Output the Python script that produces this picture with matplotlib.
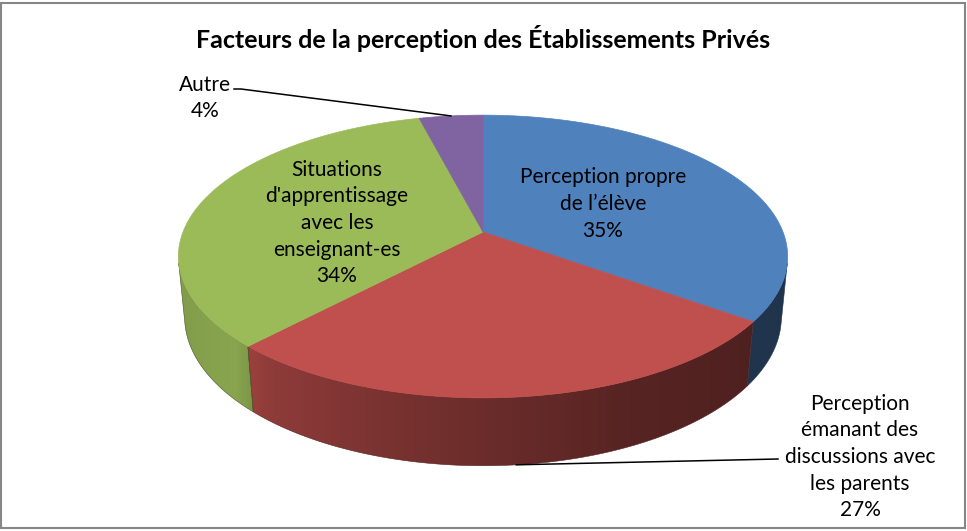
import matplotlib
matplotlib.use("Agg")
import matplotlib.pyplot as plt
import numpy as np
from matplotlib.patches import Polygon, Rectangle

title = "Facteurs de la perception des Établissements Privés"
labels = ["Perception propre\nde l’élève",
          "Perception\némanant des\ndiscussions avec\nles parents",
          "Situations\nd'apprentissage\navec les\nenseignant-es",
          "Autre"]
values = [35, 27, 34, 4]
colors = ["#4F81BD", "#C0504D", "#9BBB59", "#8064A2"]

# view of the 3d pie (pixel space)
ELEV = np.radians(27.2)
DIST = 5.13
SCALE = 1539.0
CX, CY = 483.0, 232.0
DEPTH = 0.228
W, H = 967, 531

# label boxes (centre x, centre y) and leader lines
label_pos = [(603, 204), (860, 457), (337, 223), (205, 98)]
leader = {1: (778, 459), 3: (234, 89)}


def project(x, y, z):
    s, c = np.sin(ELEV), np.cos(ELEV)
    d = DIST + y * c - z * s
    return CX + SCALE * x / d, CY - SCALE * (y * s + z * c) / d


def rim(phi, z):
    return project(np.cos(phi), np.sin(phi), z)


def shade(phi_deg):
    kx = [-180, -165, -138, -130, -95, -65, -37, 0]
    ky = [0.82, 0.84, 0.88, 0.75, 0.58, 0.45, 0.41, 0.40]
    return np.interp(phi_deg, kx, ky)


fig = plt.figure(figsize=(W / 100, H / 100), dpi=100)
ax = fig.add_axes([0, 0, 1, 1])
ax.set_xlim(0, W)
ax.set_ylim(H, 0)
ax.axis("off")

tot = float(sum(values))
cum = np.concatenate([[0], np.cumsum(values)]) / tot
starts = 90 - cum[:-1] * 360
ends = 90 - cum[1:] * 360

sil = np.degrees(np.arcsin(1.0 / (DIST * np.cos(ELEV))))
vis_lo, vis_hi = -180 + sil, -sil

# side walls, filled with a horizontal gradient clipped to the wall outline
for i in range(len(values)):
    lo = max(ends[i], vis_lo)
    hi = min(starts[i], vis_hi)
    if lo >= hi:
        continue
    ph = np.linspace(lo, hi, 300)
    tx, ty = rim(np.radians(ph), 0)
    bx, by = rim(np.radians(ph), -DEPTH)
    outline = list(zip(tx, ty)) + list(zip(bx[::-1], by[::-1]))
    poly = Polygon(outline, closed=True, facecolor="none", edgecolor="none")
    ax.add_patch(poly)
    base = np.array(matplotlib.colors.to_rgb(colors[i]))
    x0, x1 = min(tx.min(), bx.min()) - 2, max(tx.max(), bx.max()) + 2
    y0, y1 = min(ty.min(), by.min()) - 2, max(ty.max(), by.max()) + 2
    cols = np.arange(np.floor(x0), np.ceil(x1) + 1)
    order = np.argsort(bx)
    phx = np.interp(cols, bx[order], ph[order])
    rgb = np.clip(base[None, :] * shade(phx)[:, None], 0, 1)
    img = np.repeat(rgb[None, :, :], 4, axis=0)
    im = ax.imshow(img, extent=(cols[0], cols[-1], y1, y0), aspect="auto",
                   interpolation="bilinear", zorder=1)
    im.set_clip_path(poly)
    edge = Polygon(outline, closed=True, facecolor="none",
                   edgecolor=tuple(base * 0.45), lw=0.4, zorder=1.5)
    ax.add_patch(edge)

# top faces
for i in range(len(values)):
    ph = np.radians(np.linspace(starts[i], ends[i], 200))
    xs, ys = rim(ph, 0)
    pts = [project(0, 0, 0)] + list(zip(xs, ys))
    ax.add_patch(Polygon(pts, closed=True, facecolor=colors[i],
                         edgecolor=colors[i], lw=0.5, zorder=2))

ax.set_xlim(0, W)
ax.set_ylim(H, 0)

# labels
for i in range(len(values)):
    txt = labels[i] + "\n%d%%" % round(values[i] / tot * 100)
    x, y = label_pos[i]
    ax.text(x, y, txt, ha="center", va="center", fontsize=15,
            family="Lato", color="black", linespacing=1.42, zorder=4)

# leader lines to the rim
mid = np.radians((starts + ends) / 2)
ex, ey = rim(mid[1], -DEPTH)
sx, sy = leader[1]
ax.plot([sx, ex], [sy, ey], color="black", lw=1.1, zorder=3)
ex, ey = rim(mid[3], 0)
sx, sy = leader[3]
ax.plot([sx, sx + 7, ex], [sy, sy, ey], color="black", lw=1.1, zorder=3)

ax.text(483, 38, title, ha="center", va="center", fontsize=18,
        family="Lato", fontweight="bold")

fig.add_artist(Rectangle((0.001, 0.006), 0.997, 0.988, transform=fig.transFigure,
                         fill=False, edgecolor="#868686", lw=1.5))

fig.savefig("out.png", dpi=100)
